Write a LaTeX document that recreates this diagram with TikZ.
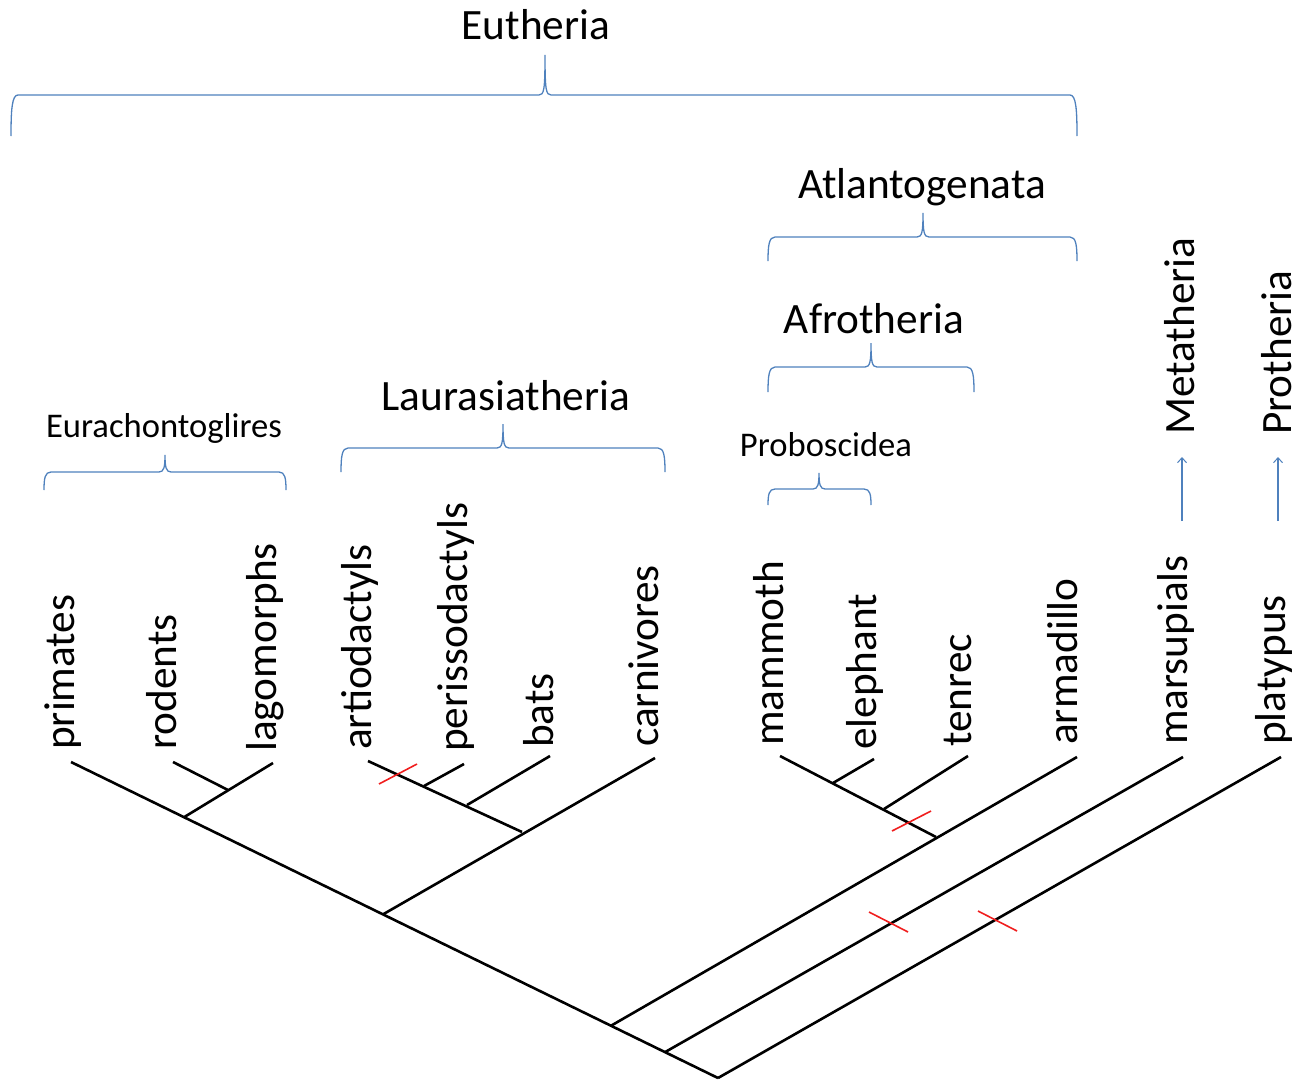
\documentclass[tikz,border=0pt]{standalone}
\usepackage{fontspec}
\setmainfont{Carlito}
\usetikzlibrary{arrows.meta,calc}
\definecolor{bracecol}{RGB}{79,129,189}
\definecolor{tickred}{RGB}{240,30,30}
\tikzset{
  branch/.style={line width=2.6pt, black},
  tick/.style={line width=1.6pt, tickred},
  cbrace/.style={line width=1.3pt, bracecol},
  grparrow/.style={line width=1.1pt, bracecol, -{Straight Barb[length=5pt,width=9pt,line width=1pt]}},
  bigtxt/.style={font=\fontsize{43.3}{52}\selectfont, inner sep=0pt},
  smalltxt/.style={font=\fontsize{34.6}{42}\selectfont, inner sep=0pt},
  taxon/.style={bigtxt, rotate=90, anchor=base west},
}
% brace: #1 left x, #2 right x, #3 tip x, #4 tip y, #5 line y, #6 bottom y
\newcommand{\cladebrace}[6]{%
  \draw[cbrace] (#1,#6) .. controls (#1,{#5+0.35*(#6-#5)}) and ({#1+1},#5) .. ({#1+7},#5)
    -- ({#3-6},#5) .. controls ({#3-1},#5) and (#3,{#5-5}) .. (#3,#4)
    .. controls (#3,{#5-5}) and ({#3+1},#5) .. ({#3+6},#5)
    -- ({#2-7},#5) .. controls ({#2-1},#5) and (#2,{#5+0.35*(#6-#5)}) .. (#2,#6);}
\begin{document}
\begin{tikzpicture}[x=1pt,y=-1pt]
\useasboundingbox (0,0) rectangle (1308,1081);

% ---------- tree coordinates ----------
\coordinate (root) at (718,1078);
\coordinate (tPri) at (71,762);
\coordinate (tRod) at (173,762);
\coordinate (tLag) at (273,763);
\coordinate (tArt) at (368,761);
\coordinate (tPer) at (464,764);
\coordinate (tBat) at (550,756);
\coordinate (tCar) at (655,758);
\coordinate (tMam) at (780,756);
\coordinate (tEle) at (874,759);
\coordinate (tTen) at (968,756);
\coordinate (tArm) at (1077,757);
\coordinate (tMar) at (1183,757);
\coordinate (tPla) at (1281,757);

\coordinate (jEua) at ($(root)!0.8253!(tPri)$);
\coordinate (jLau) at ($(root)!0.5178!(tPri)$);
\coordinate (jAtl) at ($(root)!0.1654!(tPri)$);
\coordinate (jMar) at ($(root)!0.0819!(tPri)$);
\coordinate (jRod) at (228,790);
\coordinate (jArt) at (522,832);
\coordinate (jPer) at (424,786);
\coordinate (jBat) at (467,805);
\coordinate (jMam) at (936,837);
\coordinate (jEle) at (833,783);
\coordinate (jTen) at (884,809);

% ---------- branches ----------
\draw[branch] (root) -- (tPri);
\draw[branch] (jEua) -- (tLag);
\draw[branch] (jRod) -- (tRod);
\draw[branch] (jLau) -- (tCar);
\draw[branch] (jArt) -- (tArt);
\draw[branch] (jPer) -- (tPer);
\draw[branch] (jBat) -- (tBat);
\draw[branch] (jAtl) -- (tArm);
\draw[branch] (jMam) -- (tMam);
\draw[branch] (jEle) -- (tEle);
\draw[branch] (jTen) -- (tTen);
\draw[branch] (jMar) -- (tMar);
\draw[branch] (root) -- (tPla);

% ---------- red ticks ----------
\coordinate (r1a) at (379,784); \coordinate (r1b) at (417,764);
\coordinate (r2a) at (892,831); \coordinate (r2b) at (931,811);
\coordinate (r3a) at (869,912); \coordinate (r3b) at (908,932);
\coordinate (r4a) at (978,911); \coordinate (r4b) at (1017,931);
\draw[tick] (r1a) -- (r1b);
\draw[tick] (r2a) -- (r2b);
\draw[tick] (r3a) -- (r3b);
\draw[tick] (r4a) -- (r4b);

% ---------- taxon labels ----------
\node[taxon] (lPri) at (74,750) {primates};
\node[taxon] (lRod) at (176,750) {rodents};
\node[taxon] (lLag) at (276,752) {lagomorphs};
\node[taxon] (lArt) at (371,750) {artiodactyls};
\node[taxon] (lPer) at (467,752) {perissodactyls};
\node[taxon] (lBat) at (553,748) {bats};
\node[taxon] (lCar) at (658,747) {carnivores};
\node[taxon] (lMam) at (783,746) {mammoth};
\node[taxon] (lEle) at (876,750) {elephant};
\node[taxon] (lTen) at (971,747) {tenrec};
\node[taxon] (lArm) at (1077,745) {armadillo};
\node[taxon] (lMar) at (1187,745) {marsupials};
\node[taxon] (lPla) at (1285,745) {platypus};

% ---------- clade labels ----------
\node[bigtxt, anchor=base] (cEut) at (536,40) {Eutheria};
\node[bigtxt, anchor=base] (cAtl) at (922,198) {Atlantogenata};
\node[bigtxt, anchor=base] (cAfr) at (874,333) {Afrotheria};
\node[bigtxt, anchor=base] (cLau) at (506,410) {Laurasiatheria};
\node[smalltxt, anchor=base] (cEua) at (164,437) {Eurachontoglires};
\node[smalltxt, anchor=base] (cPro) at (826,456) {Proboscidea};
\node[taxon] (cMet) at (1194,435) {Metatheria};
\node[taxon] (cPrt) at (1291,435) {Protheria};

% ---------- braces ----------
\cladebrace{11}{1077}{545}{55}{95}{136}
\cladebrace{768}{1077}{923}{213}{237}{261}
\cladebrace{768}{974}{871}{343}{367}{392}
\cladebrace{768}{871}{819}{473}{489}{505}
\cladebrace{44}{286}{165}{455}{472}{490}
\cladebrace{341}{665}{503}{424}{448}{472}

% ---------- arrows ----------
\coordinate (aMet0) at (1182,521); \coordinate (aMet1) at (1182,457);
\coordinate (aPrt0) at (1278,521); \coordinate (aPrt1) at (1278,457);
\draw[grparrow] (aMet0) -- (aMet1);
\draw[grparrow] (aPrt0) -- (aPrt1);
\end{tikzpicture}
\end{document}
